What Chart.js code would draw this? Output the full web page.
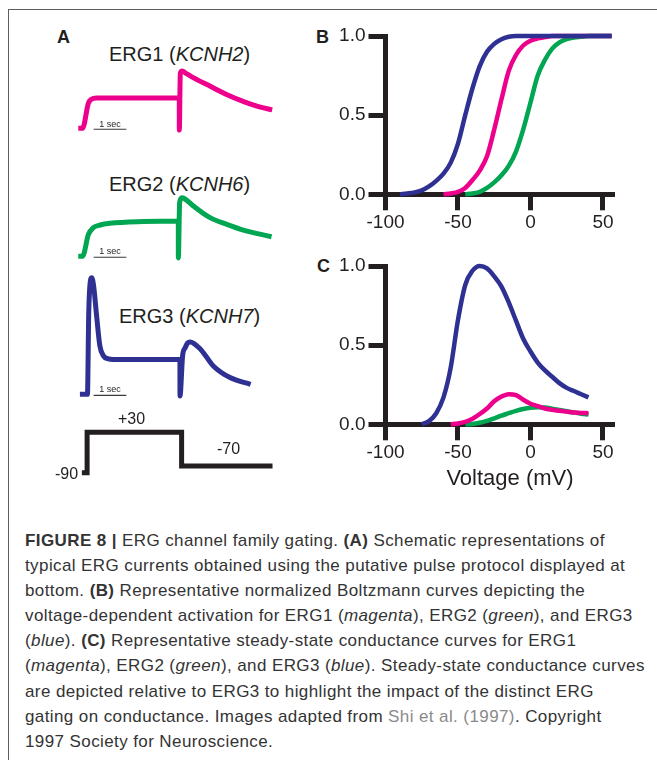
<!DOCTYPE html>
<html>
<head>
<meta charset="utf-8">
<title>ERG channel family gating</title>
<script src="https://cdn.jsdelivr.net/npm/chart.js@4.4.1/dist/chart.umd.min.js"></script>
<style>
    body { margin: 0; width: 657px; height: 760px; position: relative; overflow: hidden; background: #fff;
           font-family: "Liberation Sans", Arial, sans-serif; color: #231f20; }
    .frame { position: absolute; left: 8px; top: 9px; width: 660px; height: 760px;
             border-top: 1.5px solid #5e5e5e; border-left: 1.5px solid #5e5e5e; }
    .box { position: absolute; }
    .lbl { position: absolute; white-space: nowrap; line-height: 1; }
    .panel { font-weight: bold; font-size: 18px; }
    .ttl { font-size: 20px; }
    .sec { font-size: 9px; transform: translate(-50%, -50%); }
    .volt { font-size: 16px; }
    .caption { position: absolute; left: 25px; top: 528px; font-size: 17px; letter-spacing: 0.4px;
               line-height: 25.1px; color: #333; white-space: nowrap; }
    .caption .link { color: #8a8a8a; }
</style>
</head>
<body>
<div class="frame"></div>

<!-- panel A: schematic currents -->
<div class="lbl panel" style="left:57px; top:28px;">A</div>
<div class="lbl ttl" style="left:109px; top:44px;">ERG1 (<i>KCNH2</i>)</div>
<div class="lbl ttl" style="left:109px; top:174px;">ERG2 (<i>KCNH6</i>)</div>
<div class="lbl ttl" style="left:119px; top:306px;">ERG3 (<i>KCNH7</i>)</div>
<div class="box" style="left:70px; top:58px; width:215px; height:88px;"><canvas id="erg1"></canvas></div>
<div class="box" style="left:70px; top:186px; width:215px; height:88px;"><canvas id="erg2"></canvas></div>
<div class="box" style="left:70px; top:266px; width:215px; height:146px;"><canvas id="erg3"></canvas></div>
<div class="box" style="left:70px; top:423px; width:215px; height:59px;"><canvas id="protocol"></canvas></div>
<div class="lbl sec" style="left:110px; top:124px;">1 sec</div>
<div class="lbl sec" style="left:110px; top:251px;">1 sec</div>
<div class="lbl sec" style="left:110px; top:389px;">1 sec</div>
<div class="lbl volt" style="left:118px; top:411px;">+30</div>
<div class="lbl volt" style="left:217px; top:441px;">-70</div>
<div class="lbl volt" style="left:55px; top:466px;">-90</div>

<!-- panels B and C -->
<div class="lbl panel" style="left:316px; top:28px;">B</div>
<div class="lbl panel" style="left:317px; top:257px;">C</div>
<div class="box" style="left:300px; top:20px; width:340px; height:240px;"><canvas id="chartB"></canvas></div>
<div class="box" style="left:300px; top:250px; width:340px; height:240px;"><canvas id="chartC"></canvas></div>
<div class="lbl" style="left:510px; top:478px; font-size:22px; transform:translate(-50%,-50%);">Voltage (mV)</div>

<div class="caption">
<div><b>FIGURE 8 |</b> ERG channel family gating. <b>(A)</b> Schematic representations of</div>
<div>typical ERG currents obtained using the putative pulse protocol displayed at</div>
<div>bottom. <b>(B)</b> Representative normalized Boltzmann curves depicting the</div>
<div>voltage-dependent activation for ERG1 (<i>magenta</i>), ERG2 (<i>green</i>), and ERG3</div>
<div>(<i>blue</i>). <b>(C)</b> Representative steady-state conductance curves for ERG1</div>
<div>(<i>magenta</i>), ERG2 (<i>green</i>), and ERG3 (<i>blue</i>). Steady-state conductance curves</div>
<div>are depicted relative to ERG3 to highlight the impact of the distinct ERG</div>
<div>gating on conductance. Images adapted from <span class="link">Shi et al. (1997)</span>. Copyright</div>
<div>1997 Society for Neuroscience.</div>
</div>

<script>
// colours
var ink = '#231f20';
var magenta = '#ec008c';
var green = '#00a651';
var blue = '#2e3192';

// ---- panel A, time in s, current normalised to the ERG3 peak ----
var erg1Time = [-0.22, -0.09, 0.09, 0.18, 0.34, 2.869, 2.87, 2.9, 2.96, 3.05, 3.31, 3.82, 4.33, 4.84, 5.35, 5.71];
var erg1Cur  = [0, 0, 0.216, 0.248, 0.259, 0.259, -0.015, 0.47, 0.49, 0.475, 0.431, 0.359, 0.287, 0.229, 0.181, 0.158];

var erg2Time = [-0.22, -0.09, 0.09, 0.24, 0.45, 0.75, 1.77, 2.839, 2.84, 2.88, 2.95, 3.02, 3.3, 3.81, 4.32, 4.83, 5.69];
var erg2Cur  = [0, 0, 0.187, 0.245, 0.268, 0.282, 0.297, 0.302, -0.014, 0.46, 0.5, 0.495, 0.431, 0.331, 0.273, 0.224, 0.167];

var erg3Time = [-0.17, 0.06, 0.1, 0.14, 0.19, 0.25, 0.34, 0.44, 0.55, 0.7, 0.85, 2.889, 2.89, 2.97, 3.05, 3.12, 3.2, 3.51, 3.91, 4.42, 5.05];
var erg3Cur  = [0, 0, 0.7, 0.95, 1.0, 0.93, 0.675, 0.416, 0.33, 0.305, 0.3, 0.3, -0.015, 0.33, 0.4, 0.44, 0.45, 0.39, 0.244, 0.144, 0.086];

// pulse protocol (mV)
var protoTime = [-0.11, 0.05, 0.05, 2.94, 2.94, 5.72];
var protoVolt = [-90, -90, 30, 30, -70, -70];

// 1 sec scale bar
var barTime = [0.25, 1.25];
var barLevel = -0.008;

// ---- panel B: normalised activation (Boltzmann) ----
var voltB = [-100, -95, -90, -85, -80, -75, -70, -65, -60, -55, -50, -45, -40, -35, -30, -25,
             -20, -15, -10, -5, 0, 5, 10, 15, 20, 25, 30, 35, 40, 45, 50, 56];
var actErg1 = [null, null, null, null, null, null, null, null, 0, 0.005, 0.015, 0.04, 0.09, 0.15, 0.24, 0.41,
               0.6, 0.78, 0.88, 0.94, 0.97, 0.985, 0.993, 1, 1, 1, 1, 1, 1, 1, 1, 1];
var actErg2 = [null, null, null, null, null, null, null, null, null, null, null, 0, 0.005, 0.015, 0.04, 0.075,
               0.12, 0.18, 0.27, 0.41, 0.58, 0.75, 0.85, 0.92, 0.96, 0.98, 0.99, 0.995, 1, 1, 1, 1];
var actErg3 = [null, null, 0, 0.005, 0.012, 0.025, 0.05, 0.085, 0.13, 0.2, 0.32, 0.5, 0.67, 0.81, 0.9, 0.95,
               0.98, 0.995, 1, 1, 1, 1, 1, 1, 1, 1, 1, 1, 1, 1, 1, 1];

// ---- panel C: steady-state conductance relative to ERG3 ----
var voltC = [-75, -70, -65, -60, -55, -50, -45, -40, -35, -30, -25, -20, -15, -10, -5, 0,
             5, 10, 15, 20, 25, 30, 35, 40];
var condErg1 = [null, null, null, null, 0, 0.005, 0.015, 0.035, 0.065, 0.1, 0.145, 0.175, 0.19, 0.185, 0.155, 0.13,
                0.115, 0.1, 0.092, 0.085, 0.08, 0.075, 0.072, 0.07];
var condErg2 = [null, null, null, null, null, null, 0, 0.002, 0.01, 0.022, 0.038, 0.055, 0.07, 0.085, 0.097, 0.105,
                0.108, 0.106, 0.098, 0.09, 0.082, 0.074, 0.067, 0.061];
var condErg3 = [0, 0.02, 0.07, 0.17, 0.36, 0.66, 0.88, 0.97, 1.0, 0.985, 0.935, 0.87, 0.77, 0.655, 0.54, 0.46,
                0.39, 0.34, 0.3, 0.26, 0.23, 0.21, 0.19, 0.17];

var xTicks = [-100, -50, 0, 50];
var yTicks = [0, 0.5, 1];

Chart.defaults.font.family = '"Liberation Sans", Arial, sans-serif';
Chart.defaults.animation = false;

function pts(xs, ys) {
    return xs.map(function (x, i) { return { x: x, y: ys[i] }; });
}

// small trace without axes
function traceChart(id, datasets, yMin, yMax) {
    return new Chart(document.getElementById(id), {
        type: 'line',
        data: { datasets: datasets },
        options: {
            responsive: true, maintainAspectRatio: false,
            layout: { padding: { left: 7.3, right: 11.5, top: 6, bottom: 6 } },
            plugins: { legend: { display: false }, tooltip: { enabled: false } },
            scales: {
                x: { type: 'linear', min: -0.25, max: 5.75, display: false },
                y: { min: yMin, max: yMax, display: false }
            }
        }
    });
}

function trace(xs, ys, color) {
    return { data: pts(xs, ys), borderColor: color, borderWidth: 5, pointRadius: 0,
             cubicInterpolationMode: 'monotone', borderJoinStyle: 'round', borderCapStyle: 'butt', clip: 10 };
}

function scaleBar() {
    return { data: pts(barTime, [barLevel, barLevel]), borderColor: '#3a3a3a', borderWidth: 1.2, pointRadius: 0, clip: 10 };
}

traceChart('erg1', [trace(erg1Time, erg1Cur, magenta), scaleBar()], -0.1, 0.55);
traceChart('erg2', [trace(erg2Time, erg2Cur, green), scaleBar()], -0.1, 0.55);
traceChart('erg3', [trace(erg3Time, erg3Cur, blue), scaleBar()], -0.1, 1.05);
// the pulse protocol keeps its square corners
var p = trace(protoTime, protoVolt, ink);
p.cubicInterpolationMode = 'default';
p.tension = 0;
p.borderJoinStyle = 'miter';
traceChart('protocol', [p], -100, 40);

// B and C: thick black axes drawn over the curves
function axisOpts(extra) {
    var o = {
        z: 1,
        grid: { drawOnChartArea: false, drawTicks: true, lineWidth: 5, color: ink },
        border: { display: true, width: 5, color: ink },
        ticks: { color: ink, font: { size: 19 }, autoSkip: false, maxRotation: 0 }
    };
    return Object.assign(o, extra);
}

function curveChart(id, volts, series) {
    return new Chart(document.getElementById(id), {
        type: 'line',
        data: {
            datasets: series.map(function (s) {
                return { data: pts(volts, s.values), borderColor: s.color, borderWidth: 4.5, pointRadius: 0,
                         cubicInterpolationMode: 'monotone', spanGaps: false, clip: 8, order: s.order };
            })
        },
        options: {
            responsive: true, maintainAspectRatio: false,
            layout: { padding: { left: 5.5, right: 27.6, top: 16, bottom: 15.7 } },
            plugins: { legend: { display: false }, tooltip: { enabled: false } },
            scales: {
                x: axisOpts({
                    type: 'linear', min: -100, max: 56.5,
                    afterBuildTicks: function (s) { s.ticks = xTicks.map(function (v) { return { value: v }; }); },
                    afterFit: function (s) { s.height = 50; }
                }),
                y: axisOpts({
                    min: 0, max: 1,
                    afterBuildTicks: function (s) { s.ticks = yTicks.map(function (v) { return { value: v }; }); },
                    afterFit: function (s) { s.width = 80; }
                })
            }
        }
    });
}

var b = curveChart('chartB', voltB, [
    { values: actErg2, color: green, order: 3 },
    { values: actErg1, color: magenta, order: 2 },
    { values: actErg3, color: blue, order: 1 }
]);
var c = curveChart('chartC', voltC, [
    { values: condErg2, color: green, order: 3 },
    { values: condErg1, color: magenta, order: 2 },
    { values: condErg3, color: blue, order: 1 }
]);

// tick geometry
[b, c].forEach(function (ch) {
    ch.options.scales.x.grid.tickLength = 16;
    ch.options.scales.x.ticks.padding = 1;
    ch.options.scales.y.grid.tickLength = 17;
    ch.options.scales.y.ticks.padding = 3;
    ch.options.scales.y.ticks.callback = function (v) { return v.toFixed(1); };
    ch.update();
});
</script>
</body>
</html>
